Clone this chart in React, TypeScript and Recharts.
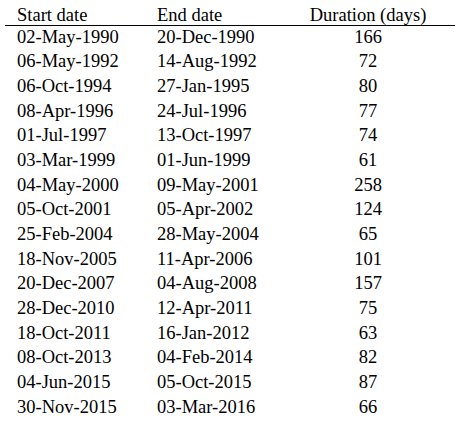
import React from "react";
import { Surface, Text } from "recharts";

const headers = ["Start date", "End date", "Duration (days)"];
const startDates = ["02-May-1990","06-May-1992","06-Oct-1994","08-Apr-1996","01-Jul-1997","03-Mar-1999","04-May-2000","05-Oct-2001","25-Feb-2004","18-Nov-2005","20-Dec-2007","28-Dec-2010","18-Oct-2011","08-Oct-2013","04-Jun-2015","30-Nov-2015"];
const endDates = ["20-Dec-1990","14-Aug-1992","27-Jan-1995","24-Jul-1996","13-Oct-1997","01-Jun-1999","09-May-2001","05-Apr-2002","28-May-2004","11-Apr-2006","04-Aug-2008","12-Apr-2011","16-Jan-2012","04-Feb-2014","05-Oct-2015","03-Mar-2016"];
const durations = [166,72,80,77,74,61,258,124,65,101,157,75,63,82,87,66];

const font = { fontSize: 18.5, fill: "#000", style: { fontFamily: "Liberation Serif, DejaVu Serif, serif" } };

export default function App() {
  const rowY = (i: number) => 36 + i * 24.67;
  return (
    <div style={{ position: "absolute", left: 0, top: 0, fontFamily: "Liberation Serif, serif" }}>
      <Surface width={459} height={421}>
        <rect x={0} y={0} width={459} height={421} fill="#fff" />
        <Text x={17} y={14} verticalAnchor="middle" {...font}>{headers[0]}</Text>
        <Text x={157} y={14} verticalAnchor="middle" {...font}>{headers[1]}</Text>
        <Text x={368} y={14} textAnchor="middle" verticalAnchor="middle" {...font}>{headers[2]}</Text>
        <line x1={5} x2={455} y1={25.5} y2={25.5} stroke="#000" strokeWidth={1} />
        {startDates.map((s, i) => (
          <g key={i}>
            <Text x={17} y={rowY(i)} verticalAnchor="middle" {...font}>{s}</Text>
            <Text x={157} y={rowY(i)} verticalAnchor="middle" {...font}>{endDates[i]}</Text>
            <Text x={368} y={rowY(i)} textAnchor="middle" verticalAnchor="middle" {...font}>{String(durations[i])}</Text>
          </g>
        ))}
      </Surface>
    </div>
  );
}
